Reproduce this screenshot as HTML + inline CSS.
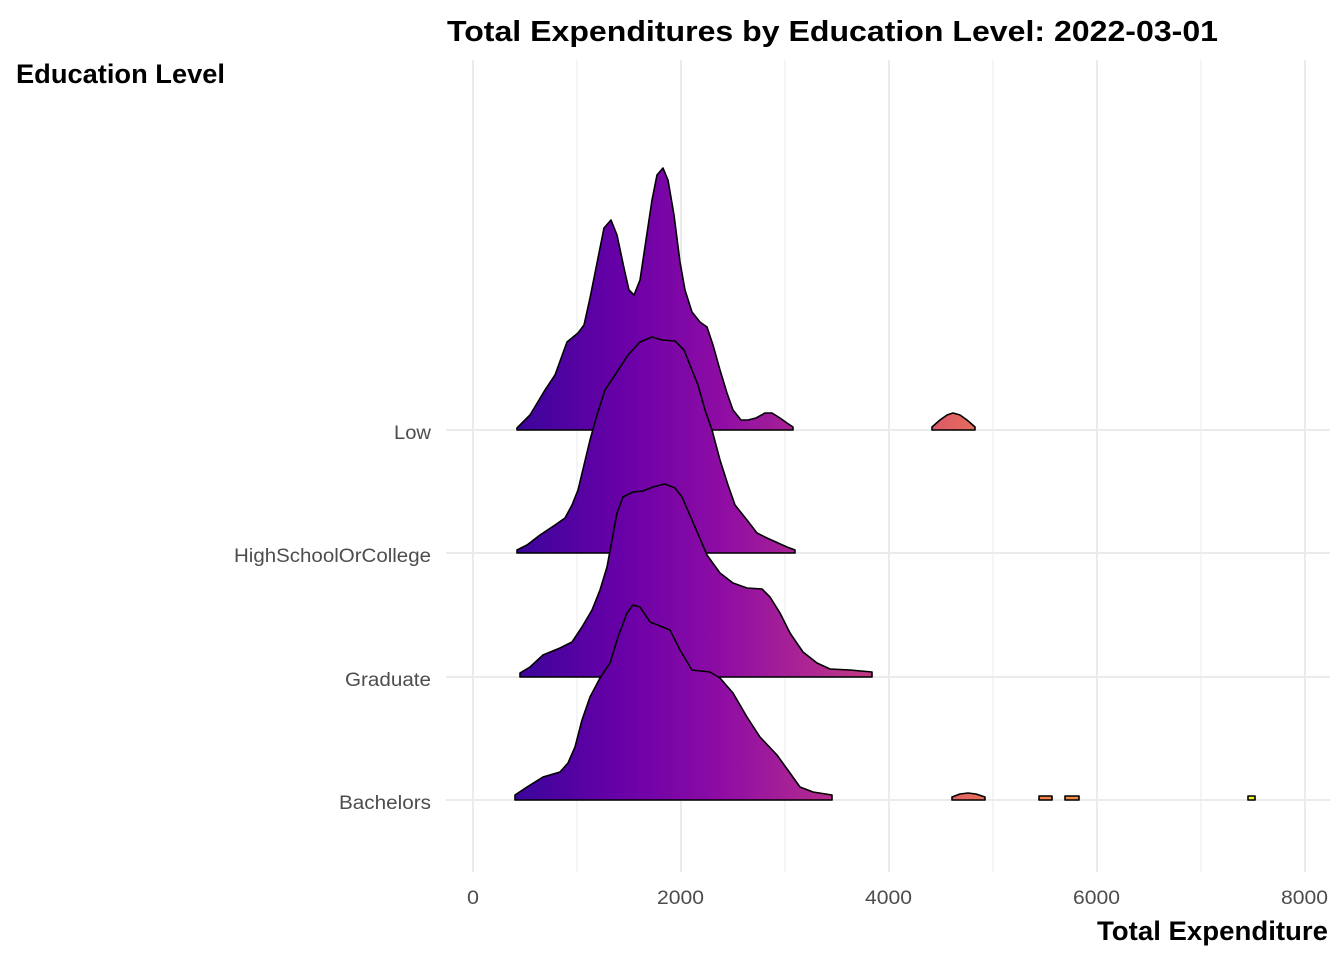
<!DOCTYPE html>
<html><head><meta charset="utf-8"><style>
html,body{margin:0;padding:0;background:#fff;}
svg{display:block;font-family:"Liberation Sans",sans-serif;}
</style></head><body>
<svg width="1344" height="960" viewBox="0 0 1344 960" xmlns="http://www.w3.org/2000/svg">
<defs>
<linearGradient id="g" gradientUnits="userSpaceOnUse" x1="430" y1="0" x2="1252" y2="0">
<stop offset="0" stop-color="#0d0887"/>
<stop offset="0.119" stop-color="#41049d"/>
<stop offset="0.238" stop-color="#6a00a8"/>
<stop offset="0.357" stop-color="#8f0da4"/>
<stop offset="0.477" stop-color="#b12a90"/>
<stop offset="0.535" stop-color="#c03a83"/>
<stop offset="0.638" stop-color="#e16462"/>
<stop offset="0.754" stop-color="#f2844b"/>
<stop offset="0.876" stop-color="#fca636"/>
<stop offset="0.937" stop-color="#fcce25"/>
<stop offset="1" stop-color="#f0f921"/>
</linearGradient>
</defs>
<g stroke="#ebebeb">
<g stroke-width="1">
<line x1="577" y1="60" x2="577" y2="872"/><line x1="785" y1="60" x2="785" y2="872"/>
<line x1="993" y1="60" x2="993" y2="872"/><line x1="1201" y1="60" x2="1201" y2="872"/>
</g>
<g stroke-width="2">
<line x1="473" y1="60" x2="473" y2="872"/>
<line x1="681" y1="60" x2="681" y2="872"/>
<line x1="889" y1="60" x2="889" y2="872"/>
<line x1="1097" y1="60" x2="1097" y2="872"/>
<line x1="1305" y1="60" x2="1305" y2="872"/>
<line x1="446" y1="430" x2="1330" y2="430"/><line x1="446" y1="553" x2="1330" y2="553"/>
<line x1="446" y1="677" x2="1330" y2="677"/><line x1="446" y1="800" x2="1330" y2="800"/>
</g>
</g>
<g fill="url(#g)" stroke="#000" stroke-width="1.6" stroke-linejoin="round">
<path d="M517,430 L517,428 530,415 545,390 555,375 567,342 578,333 584,325 590,298 598,258 604,228 611,220 617,235 624,268 629,290 634,295 640,280 646,240 652,200 657,175 663,168 668,180 674,215 680,262 685,290 692,312 700,322 707,327 713,345 720,370 727,393 733,410 741,420 748,420 756,418 765,413 772,413 780,418 787,423 793,427 793,430 Z"/>
<path d="M932,430 L932,427 940,420 947,415 953,413 960,415 967,420 975,427 975,430 Z"/>
<path d="M517,553 L517,550 527,545 540,535 555,525 565,518 572,505 578,490 584,465 590,440 597,415 605,390 615,375 628,355 640,342 652,337 662,340 675,341 684,350 690,365 698,385 705,410 712,430 720,460 728,485 735,505 747,520 757,533 767,538 787,547 795,550 795,553 Z"/>
<path d="M520,677 L520,673 530,667 543,655 560,648 572,642 582,627 592,610 600,590 607,567 612,540 617,513 623,497 633,492 643,491 653,487 665,484 675,488 682,497 692,520 707,555 720,573 733,583 747,588 762,589 770,597 780,613 790,633 803,652 817,663 830,669 850,670 872,672 872,677 Z"/>
<path d="M515,800 L515,795 527,787 543,777 560,772 568,763 575,747 582,720 590,697 600,678 610,663 618,637 627,613 633,605 640,607 650,622 660,626 670,630 680,650 692,670 710,672 720,678 733,693 747,717 760,737 777,755 790,773 800,787 813,792 832,795 832,800 Z"/>
<path d="M952,800 L952,797 960,794 968,793 976,794 985,797 985,800 Z"/>
<path d="M1039,800 L1039,796 1052,796 1052,800 Z"/>
<path d="M1065,800 L1065,796 1079,796 1079,800 Z"/>
<path d="M1248,800 L1248,796 1255,796 1255,800 Z"/>
</g>
<text x="447" y="41" font-size="29" font-weight="bold" fill="#000" textLength="771" lengthAdjust="spacingAndGlyphs">Total Expenditures by Education Level: 2022-03-01</text>
<text x="16" y="83" font-size="27" font-weight="bold" fill="#000" textLength="209" lengthAdjust="spacingAndGlyphs">Education Level</text>
<g font-size="19" fill="#4d4d4d">
<text x="394" y="439" textLength="37" lengthAdjust="spacingAndGlyphs">Low</text>
<text x="234" y="562" textLength="197" lengthAdjust="spacingAndGlyphs">HighSchoolOrCollege</text>
<text x="345" y="686" textLength="86" lengthAdjust="spacingAndGlyphs">Graduate</text>
<text x="339" y="809" textLength="92" lengthAdjust="spacingAndGlyphs">Bachelors</text>
</g>
<g font-size="19" fill="#4d4d4d">
<text x="467" y="904" textLength="12" lengthAdjust="spacingAndGlyphs">0</text>
<text x="657" y="904" textLength="47" lengthAdjust="spacingAndGlyphs">2000</text>
<text x="865" y="904" textLength="47" lengthAdjust="spacingAndGlyphs">4000</text>
<text x="1073" y="904" textLength="47" lengthAdjust="spacingAndGlyphs">6000</text>
<text x="1281" y="904" textLength="47" lengthAdjust="spacingAndGlyphs">8000</text>
</g>
<text x="1097" y="940" font-size="27" font-weight="bold" fill="#000" textLength="231" lengthAdjust="spacingAndGlyphs">Total Expenditure</text>
</svg>
</body></html>
